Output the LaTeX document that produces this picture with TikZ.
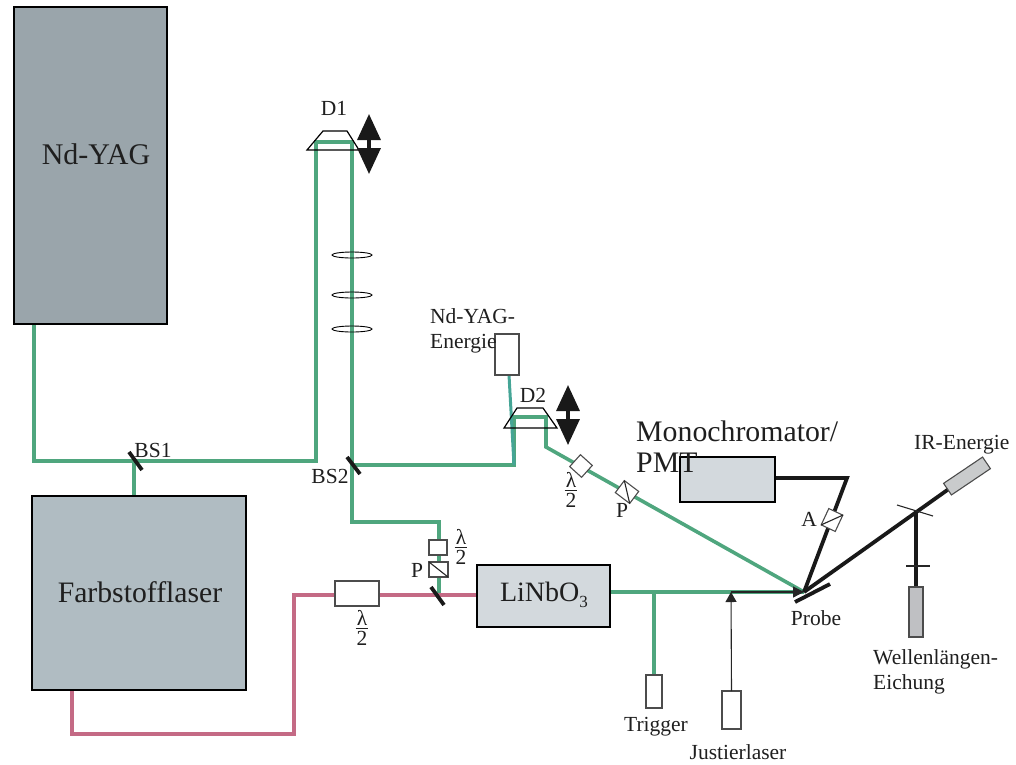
\documentclass[tikz,border=0pt]{standalone}
\usepackage{fontspec}
\setmainfont{Liberation Serif}
\usetikzlibrary{arrows.meta,backgrounds,shapes.geometric}
\definecolor{beamgreen}{HTML}{4FA67E}
\definecolor{beamteal}{HTML}{45A596}
\definecolor{beampink}{HTML}{C46A85}
\newcommand{\halb}{\vbox{\offinterlineskip\halign{\hfil##\hfil\cr λ\cr\noalign{\vskip2.2pt\hrule height 1pt\vskip2.4pt}\kern1pt 2\kern1pt\cr}}}
\tikzset{
  x=1pt,y=-1pt,
  lbl/.style={inner sep=0pt,text=black!88,font=\fontsize{21.5}{21.5}\selectfont},
  biglbl/.style={inner sep=0pt,text=black!88,font=\fontsize{30}{30}\selectfont},
  device/.style={draw=black,line width=2.2pt,inner sep=0pt,outer sep=0pt,anchor=north west},
  optic/.style={draw=black!70,line width=1.1pt,fill=white,inner sep=0pt,outer sep=0pt},
  greenbeam/.style={draw=beamgreen,line width=3.6pt,line join=miter},
  pinkbeam/.style={draw=beampink,line width=3.6pt},
  probebeam/.style={draw=black!90,line width=3.8pt},
  mirror/.style={draw=black!90,line width=3.8pt},
  thinline/.style={draw=black!85,line width=1.1pt},
  lens/.style={draw=black,line width=.9pt,ellipse,inner sep=0pt,outer sep=0pt,minimum width=40pt,minimum height=6pt},
  shift arrow/.style={draw=black!90,fill=black!90,line width=3.4pt,{Triangle[length=26pt,width=23pt]}-{Triangle[length=26pt,width=23pt]}},
}
\begin{document}
\begin{tikzpicture}
\useasboundingbox (0,0) rectangle (1016,764);
% devices
\node[device,fill={rgb,255:red,154;green,165;blue,171},minimum width=153pt,minimum height=317pt] (yag) at (14,7) {};
\node[device,fill={rgb,255:red,176;green,188;blue,194},minimum width=214pt,minimum height=194pt] (dye) at (32,496) {};
\node[device,fill={rgb,255:red,211;green,217;blue,221},minimum width=133pt,minimum height=62pt] (linbo) at (477,565) {};
\node[device,fill={rgb,255:red,211;green,217;blue,221},minimum width=95pt,minimum height=45pt] (mono) at (680,457) {};
% optics
\node[optic,minimum width=24pt,minimum height=41pt] (yagen) at (507,354.5) {};
\node[optic,minimum width=16pt,minimum height=33pt] (trig) at (654,691.5) {};
\node[optic,minimum width=19pt,minimum height=38pt] (just) at (731.5,710) {};
\node[optic,minimum width=44pt,minimum height=25pt] (wpa) at (357,593.5) {};
\node[optic,minimum width=18pt,minimum height=15pt] (wpb) at (438,547.5) {};
\node[optic,minimum width=19pt,minimum height=15pt] (pola) at (438.5,569.5) {};
\node[optic,minimum width=16pt,minimum height=16pt,rotate=-42] (wpc) at (581,466) {};
\node[optic,minimum width=18pt,minimum height=15pt,rotate=-37] (polb) at (627,492) {};
\node[optic,minimum width=15.5pt,minimum height=18pt,rotate=-25] (ana) at (832,520) {};
\node[optic,fill={rgb,255:red,201;green,203;blue,204},minimum width=47pt,minimum height=14pt,rotate=34] (irbox) at (967,476) {};
\node[optic,fill={rgb,255:red,191;green,192;blue,195},minimum width=14pt,minimum height=50pt] (wlbox) at (916,612) {};
\node[lens] (la) at (352,255) {};
\node[lens] (lb) at (352,295) {};
\node[lens] (lc) at (352,329) {};
\draw[thinline] (pola.north west) -- (pola.south east);
\draw[thinline] (polb.north west) -- (polb.south east);
\draw[thinline] (ana.north east) -- (ana.south west);
% beam points
\coordinate (a1) at (34,461);
\coordinate (bs1c) at (134,461);
\coordinate (d1l) at (316,142);
\coordinate (d1r) at (352,142);
\coordinate (d1b) at (316,461);
\coordinate (bs2c) at (352,465);
\coordinate (k1) at (352,522);
\coordinate (k2) at (439,522);
\coordinate (bs3c) at (439,595);
\coordinate (d2in) at (514,465);
\coordinate (d2l) at (514,417);
\coordinate (d2r) at (546,417);
\coordinate (d2o) at (546,447);
\coordinate (pr) at (804,592);
\coordinate (trigj) at (654,592);
\coordinate (justj) at (731,592);
\coordinate (p1) at (72,734);
\coordinate (p2) at (294,734);
\coordinate (p3) at (294,595);
\coordinate (mk) at (847,478);
\coordinate (sp) at (916,513);
\coordinate (yagout) at (34,324);
\coordinate (dyeout) at (72,690);
% beams below the devices
\begin{scope}[on background layer]
\draw[greenbeam] (yagout) -- (a1) -- (d1b) -- (d1l) -- (d1r) -- (k1) -- (k2) -- (bs3c);
\draw[greenbeam] (bs1c) -- (bs1c |- dye.north);
\draw[greenbeam] (bs2c) -- (d2in) -- (d2l) -- (d2r) -- (d2o) -- (pr);
\draw[draw=beamteal,line width=3pt] (509,375) -- (d2in);
\draw[greenbeam] (linbo.east |- trigj) -- (pr);
\draw[greenbeam] (trigj) -- (trig.north);
\draw[pinkbeam] (dyeout) -- (p1) -- (p2) -- (p3) -- (linbo.west |- p3);
\draw[probebeam] (mono.east |- mk) -- (mk) -- (pr);
\draw[probebeam] (pr) -- (irbox.center);
\draw[probebeam] (sp) -- (wlbox.north);
\end{scope}
% thin alignment beam
\draw[thinline,-{Triangle[length=10pt,width=11pt]}] (just.north) -- (justj);
\draw[thinline,-{Triangle[length=11pt,width=11pt]}] (justj) -- (pr);
% mirrors
\coordinate (m1a) at (129,452); \coordinate (m1b) at (142,470);
\coordinate (m2a) at (347,457); \coordinate (m2b) at (360,474);
\coordinate (m3a) at (431,587); \coordinate (m3b) at (444,605);
\coordinate (m4a) at (795,602); \coordinate (m4b) at (830,584);
\draw[mirror] (m1a) -- (m1b);
\draw[mirror] (m2a) -- (m2b);
\draw[mirror] (m3a) -- (m3b);
\draw[mirror] (m4a) -- (m4b);
% thin splitters
\coordinate (s1a) at (897,505); \coordinate (s1b) at (933,516);
\coordinate (s2a) at (906,566); \coordinate (s2b) at (930,566);
\draw[thinline] (s1a) -- (s1b);
\draw[thinline] (s2a) -- (s2b);
% delay lines
\draw[thinline,line width=1.2pt,draw=black] (307,150) -- (323,131) -- (347,131) -- (359,150) -- cycle;
\draw[thinline,line width=1.2pt,draw=black] (504,428) -- (517,408) -- (543,408) -- (557,428) -- cycle;
\coordinate (ua) at (369,114); \coordinate (ub) at (369,174);
\coordinate (va) at (568,385); \coordinate (vb) at (568,445);
\draw[shift arrow] (ua) -- (ub);
\draw[shift arrow] (va) -- (vb);
% labels
\node[biglbl] (tyag) at (96,154) {Nd-YAG};
\node[biglbl,font=\fontsize{29.7}{29.7}\selectfont] (tdye) at (140,592) {Farbstofflaser};
\node[biglbl,font=\fontsize{28}{28}\selectfont] (tlin) at (544,595) {LiNbO\raisebox{-.2em}{\fontsize{17}{17}\selectfont 3}};
\node[biglbl,anchor=west,font=\fontsize{29.8}{29.8}\selectfont] (tmono) at (636,431) {Monochromator/};
\node[biglbl,anchor=west,font=\fontsize{29.8}{29.8}\selectfont] (tpmt) at (636,463) {PMT};
\node[lbl] (td1) at (334,108) {D1};
\node[lbl] (td2) at (533,395) {D2};
\node[lbl] (tbs1) at (153,450) {BS1};
\node[lbl] (tbs2) at (330,476) {BS2};
\node[lbl,anchor=west] (tye1) at (430,316) {Nd-YAG-};
\node[lbl,anchor=west] (tye2) at (430,344) {Energie};
\node[lbl] (tp1) at (417,570) {P};
\node[lbl] (tp2) at (622,510) {P};
\node[lbl] (ta) at (809,519) {A};
\node[lbl] (tl1) at (362,628) {\halb};
\node[lbl] (tl2) at (461,547) {\halb};
\node[lbl] (tl3) at (571,490) {\halb};
\node[lbl] (tprobe) at (816,618) {Probe};
\node[lbl] (ttrig) at (656,727) {Trigger};
\node[lbl] (tjust) at (738,752) {Justierlaser};
\node[lbl,anchor=west] (tir) at (914,445) {IR-Energie};
\node[lbl,anchor=west] (twl1) at (873,659) {Wellenlängen-};
\node[lbl,anchor=west] (twl2) at (873,684) {Eichung};
\end{tikzpicture}
\end{document}
